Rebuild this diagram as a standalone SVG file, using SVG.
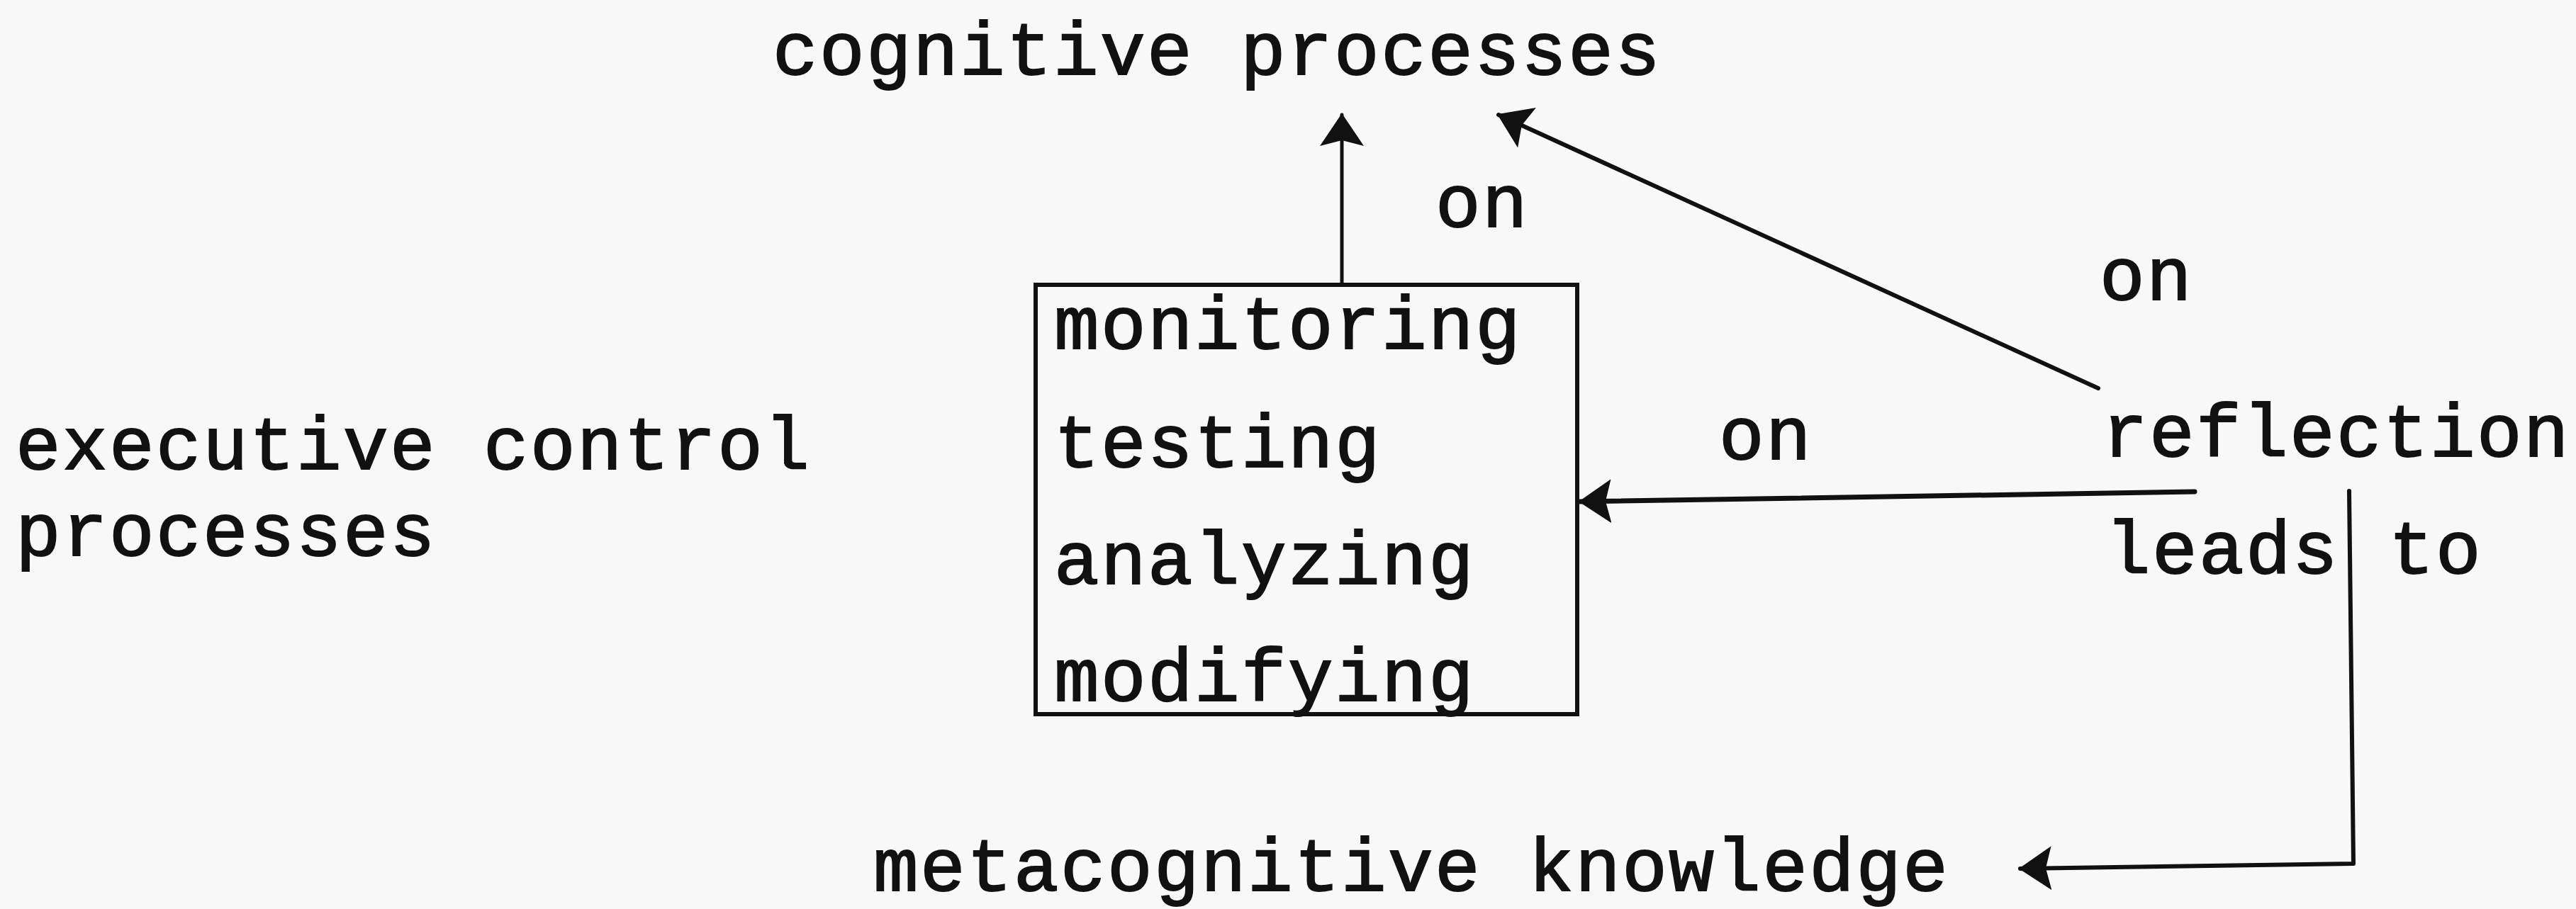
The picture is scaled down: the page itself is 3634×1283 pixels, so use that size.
<svg xmlns="http://www.w3.org/2000/svg" width="3634" height="1283" viewBox="0 0 3634 1283">
  <defs>
    <style>
      .t { font-family: "Liberation Mono", "DejaVu Sans Mono", monospace; font-size: 106px; letter-spacing: 2.4px; fill: #111; stroke: #111; stroke-width: 2px; }
      .ln { stroke: #111; fill: none; stroke-linecap: round; stroke-linejoin: round; }
    </style>
    <marker id="ah" markerUnits="userSpaceOnUse" viewBox="0 0 46 62" refX="44" refY="31" markerWidth="46" markerHeight="62" orient="auto">
      <polygon points="0,0 46,31 0,62 8,31" fill="#111"/>
    </marker>
  </defs>
  <rect x="0" y="0" width="3634" height="1283" fill="#f8f8f8"/>

  <g id="connectors">
    <line class="ln" x1="1893" y1="402" x2="1893" y2="162" stroke-width="5" marker-end="url(#ah)"/>
    <line class="ln" x1="2960" y1="548" x2="2114" y2="162" stroke-width="6" marker-end="url(#ah)"/>
    <line class="ln" x1="3096" y1="694" x2="2229" y2="708" stroke-width="7" marker-end="url(#ah)"/>
    <polyline class="ln" points="3314,693 3320,1219 2850,1226" stroke-width="6" marker-end="url(#ah)"/>
  </g>

  <g id="node-cognitive-processes">
    <text class="t" x="1090" y="105">cognitive processes</text>
  </g>

  <g id="node-executive-control">
    <text class="t" x="22" y="662">executive control</text>
    <text class="t" x="22" y="784">processes</text>
  </g>

  <g id="node-box">
    <rect x="1461" y="402" width="764" height="606" fill="none" stroke="#111" stroke-width="6"/>
    <text class="t" x="1487" y="492">monitoring</text>
    <text class="t" x="1487" y="659">testing</text>
    <text class="t" x="1487" y="824">analyzing</text>
    <text class="t" x="1487" y="989">modifying</text>
  </g>

  <g id="node-reflection">
    <text class="t" x="2966" y="644">reflection</text>
  </g>

  <g id="node-metacognitive-knowledge">
    <text class="t" x="1232" y="1257">metacognitive knowledge</text>
  </g>

  <g id="labels">
    <text class="t" x="2025" y="320">on</text>
    <text class="t" x="2962" y="423">on</text>
    <text class="t" x="2425" y="648">on</text>
    <text class="t" x="2970" y="809">leads</text>
    <text class="t" x="3370" y="809">to</text>
  </g>
</svg>
